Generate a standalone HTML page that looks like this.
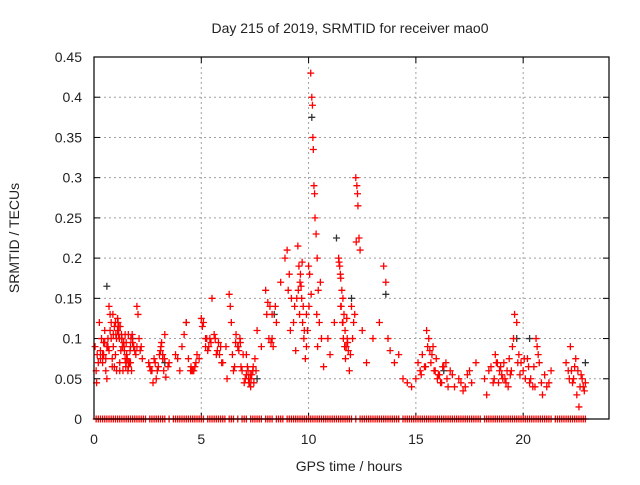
<!DOCTYPE html>
<html><head><meta charset="utf-8"><style>
body{margin:0;background:#fff;width:640px;height:480px;overflow:hidden}
svg text{font-family:"Liberation Sans",sans-serif;fill:#222}
</style></head><body>
<svg id="c" width="640" height="480">
<text x="350" y="33" font-size="14" text-anchor="middle">Day 215 of 2019, SRMTID for receiver mao0</text>
<text x="349" y="471" font-size="14" text-anchor="middle">GPS time / hours</text>
<text transform="translate(19,238) rotate(-90)" font-size="14" text-anchor="middle">SRMTID / TECUs</text>
<g id="grid"></g><g id="marks"></g>
<rect x="94" y="57" width="515" height="362" fill="none" stroke="#000" stroke-width="1.2"/>
</svg>
<script>
const xTicks=[0,5,10,15,20];
const yTicks=[0,0.05,0.1,0.15,0.2,0.25,0.3,0.35,0.4,0.45];
const redT=[0.05,0.1,0.12,0.2,0.25,0.3,0.35,0.4,0.45,0.5,0.55,0.6,0.65,0.7,0.75,0.8,0.85,0.9,0.95,1.0,1.05,1.1,1.15,1.2,1.25,1.3,1.35,1.4,1.45,1.5,1.55,1.6,1.7,1.8,1.9,2.0,2.05,2.1,2.2,2.25,
0.3,0.5,0.7,0.9,1.0,1.1,1.2,1.3,1.5,1.6,1.7,1.75,2.0,1.05,1.15,0.45,0.8,
0.15,0.4,0.6,0.75,0.85,0.95,1.12,1.22,1.28,1.38,1.42,1.48,1.58,1.65,1.68,1.72,1.78,1.85,1.95,2.15,0.55,0.65,0.88,1.02,1.18,1.32,1.45,1.52,1.62,
2.6,2.7,2.75,2.8,2.9,3.0,3.1,3.15,3.2,3.25,3.3,3.35,3.5,3.8,4.0,4.2,4.3,4.4,4.5,4.6,4.7,4.8,5.0,5.1,5.2,5.3,5.4,5.5,5.6,5.7,5.8,5.9,6.0,6.2,6.3,6.35,6.4,6.5,6.6,6.7,6.8,6.9,7.0,7.1,7.15,7.2,7.3,7.4,7.5,7.6,7.8,
2.65,2.85,3.05,3.2,4.55,5.2,5.35,6.75,6.85,7.25,7.35,7.1,
2.55,2.95,3.12,3.28,3.45,3.9,4.1,4.52,4.65,4.75,4.9,5.05,5.25,5.45,5.65,5.75,5.85,5.95,6.15,6.45,6.55,6.62,6.72,6.82,6.95,7.05,7.18,7.22,7.28,7.32,7.42,7.45,7.55,
8.0,8.1,8.2,8.3,8.35,8.5,8.7,8.9,9.0,9.1,9.2,9.3,9.4,9.5,9.55,9.6,9.7,9.75,9.8,9.85,9.9,10.0,10.05,10.1,10.15,10.18,10.2,10.22,10.25,10.28,10.3,10.35,10.4,10.45,10.5,10.6,10.7,10.9,11.0,11.2,11.4,11.45,11.5,11.55,11.6,11.65,11.7,11.8,11.85,11.9,12.0,12.1,12.2,12.25,12.28,12.3,12.35,12.4,12.5,12.7,13.0,13.3,13.5,13.6,13.7,13.8,14.0,14.2,14.4,14.6,14.8,
9.45,9.65,9.9,11.5,11.6,11.75,12.05,8.3,
8.05,8.15,8.25,8.45,9.05,9.15,9.35,9.52,9.58,9.62,9.68,9.72,9.78,9.95,10.02,10.12,10.38,10.42,10.55,11.42,11.48,11.52,11.58,11.62,11.68,11.72,11.78,11.82,11.95,12.15,12.22,
15.0,15.2,15.3,15.5,15.6,15.7,15.8,15.9,16.0,16.2,16.4,16.6,16.8,17.0,17.2,17.4,17.6,17.8,18.2,18.3,18.5,18.7,18.9,19.0,19.1,19.2,19.3,19.5,19.6,19.7,19.8,19.9,20.0,20.1,20.3,20.5,20.6,20.7,20.9,21.0,21.2,21.3,22.0,22.1,22.2,22.3,22.4,22.5,22.6,22.7,22.8,22.9,
15.4,15.65,16.1,16.3,18.6,18.8,19.05,19.25,19.4,20.2,20.45,22.35,22.55,
15.1,15.25,15.45,15.55,15.75,15.85,15.95,16.05,16.15,16.25,16.45,16.5,16.7,17.1,17.3,17.5,18.4,18.65,18.75,18.85,18.95,19.15,19.35,19.45,19.55,19.75,19.85,20.05,20.25,20.35,20.55,20.65,20.75,20.85,21.1,22.15,22.25,22.45,22.65,22.75,22.85];
const redV=[0.09,0.06,0.045,0.07,0.12,0.085,0.1,0.08,0.095,0.11,0.075,0.05,0.1,0.14,0.13,0.12,0.065,0.09,0.115,0.12,0.06,0.125,0.105,0.07,0.085,0.1,0.06,0.09,0.105,0.07,0.075,0.065,0.09,0.095,0.085,0.14,0.13,0.1,0.09,0.075,
0.075,0.095,0.085,0.105,0.08,0.11,0.06,0.1,0.095,0.105,0.07,0.06,0.09,0.1,0.115,0.08,0.1,
0.08,0.07,0.09,0.11,0.075,0.065,0.12,0.115,0.105,0.095,0.085,0.065,0.06,0.07,0.085,0.1,0.105,0.09,0.08,0.085,0.06,0.09,0.13,0.105,0.1,0.09,0.075,0.08,0.07,
0.065,0.06,0.045,0.075,0.05,0.065,0.085,0.095,0.08,0.06,0.105,0.052,0.07,0.08,0.06,0.105,0.12,0.075,0.06,0.06,0.065,0.08,0.125,0.12,0.09,0.085,0.1,0.15,0.105,0.08,0.095,0.09,0.07,0.05,0.155,0.14,0.12,0.06,0.095,0.09,0.1,0.06,0.045,0.055,0.065,0.05,0.04,0.06,0.075,0.11,0.09,
0.06,0.07,0.08,0.075,0.06,0.1,0.09,0.085,0.065,0.045,0.055,0.08,
0.07,0.06,0.09,0.075,0.065,0.075,0.09,0.065,0.06,0.07,0.075,0.115,0.1,0.095,0.1,0.085,0.08,0.07,0.09,0.08,0.065,0.105,0.09,0.095,0.08,0.05,0.06,0.045,0.055,0.05,0.065,0.045,0.06,
0.16,0.145,0.14,0.1,0.09,0.12,0.17,0.2,0.21,0.18,0.15,0.12,0.085,0.215,0.19,0.17,0.195,0.14,0.11,0.075,0.09,0.19,0.18,0.43,0.4,0.39,0.35,0.335,0.29,0.28,0.25,0.23,0.2,0.16,0.12,0.1,0.065,0.1,0.08,0.12,0.2,0.19,0.175,0.16,0.15,0.13,0.11,0.1,0.085,0.06,0.14,0.12,0.3,0.29,0.28,0.265,0.225,0.21,0.11,0.07,0.1,0.12,0.19,0.17,0.1,0.085,0.07,0.08,0.05,0.045,0.04,
0.15,0.165,0.13,0.14,0.12,0.09,0.1,0.13,
0.13,0.1,0.095,0.14,0.16,0.11,0.14,0.16,0.13,0.18,0.15,0.12,0.1,0.11,0.14,0.155,0.13,0.09,0.17,0.195,0.18,0.14,0.12,0.1,0.09,0.075,0.125,0.095,0.08,0.13,0.22,
0.05,0.06,0.08,0.11,0.1,0.07,0.09,0.06,0.05,0.045,0.07,0.06,0.04,0.05,0.035,0.055,0.045,0.07,0.05,0.03,0.065,0.08,0.06,0.055,0.07,0.045,0.04,0.09,0.13,0.12,0.08,0.07,0.06,0.05,0.045,0.065,0.1,0.08,0.03,0.055,0.045,0.06,0.07,0.06,0.09,0.045,0.065,0.03,0.015,0.055,0.04,0.045,
0.065,0.085,0.055,0.065,0.045,0.07,0.05,0.06,0.055,0.075,0.04,0.05,0.06,
0.07,0.055,0.065,0.09,0.08,0.06,0.075,0.055,0.045,0.065,0.05,0.04,0.055,0.045,0.04,0.06,0.06,0.05,0.07,0.045,0.065,0.05,0.075,0.06,0.1,0.07,0.055,0.075,0.065,0.05,0.04,0.09,0.07,0.045,0.04,0.05,0.06,0.075,0.04,0.05,0.035];
const blackT=[0.6,1.8,4.3,10.15,11.3,13.6,16.3,19.7,20.3,22.9,7.6,3.3,8.4,12.0];
const blackV=[0.165,0.1,0.12,0.375,0.225,0.155,0.06,0.1,0.1,0.07,0.05,0.07,0.13,0.15];
const zeroT=[0.1,0.2,0.3,0.4,0.5,0.6,0.7,0.8,0.9,1.0,1.1,1.2,1.3,1.4,1.5,1.6,1.7,1.8,1.9,2.0,2.1,2.2,2.3,2.4,2.6,2.7,2.8,2.9,3.0,3.1,3.2,3.3,3.5,3.7,3.8,3.9,4.0,4.1,4.2,4.3,4.4,4.5,4.6,4.7,4.8,4.9,5.0,5.1,5.3,5.4,5.5,5.6,5.7,5.8,5.9,6.0,6.1,6.3,6.4,6.5,6.7,6.9,7.0,7.1,7.3,7.4,7.5,7.6,7.7,7.8,8.0,8.1,8.2,8.3,8.5,8.6,8.7,8.8,9.0,9.1,9.2,9.3,9.4,9.5,9.6,9.7,9.8,9.9,10.0,10.1,10.2,10.3,10.4,10.5,10.6,10.7,10.8,10.9,11.0,11.1,11.2,11.3,11.4,11.5,11.6,11.7,11.8,11.9,12.0,12.2,12.4,12.5,12.6,12.7,12.8,12.9,13.0,13.1,13.2,13.3,13.4,13.5,13.6,13.7,13.8,13.9,14.0,14.1,14.2,14.4,14.5,14.6,14.7,14.8,14.9,15.0,15.1,15.2,15.3,15.4,15.5,15.6,15.7,15.8,15.9,16.0,16.1,16.2,16.3,16.4,16.5,16.6,16.7,16.8,16.9,17.0,17.1,17.2,17.3,17.4,17.5,17.6,17.7,17.8,17.9,18.0,18.2,18.3,18.4,18.5,18.6,18.7,18.8,18.9,19.0,19.1,19.2,19.3,19.4,19.5,19.6,19.7,19.8,19.9,20.0,20.1,20.2,20.3,20.4,20.5,20.6,20.7,20.8,20.9,21.0,21.1,21.2,21.3,21.5,21.6,21.7,21.8,21.9,22.0,22.1,22.2,22.3,22.4,22.5,22.6,22.7,22.8,22.9];
const X=t=>94+t*515/24, Y=v=>419-v*362/0.45;
const NS='http://www.w3.org/2000/svg';
const grid=document.getElementById('grid'), marks=document.getElementById('marks');
function mk(tag,a,p){const e=document.createElementNS(NS,tag);for(const k in a)e.setAttribute(k,a[k]);p.appendChild(e);return e;}
xTicks.forEach(t=>{const x=X(t);
 if(t>0){const g=mk('line',{x1:x,x2:x,y1:57,y2:419,stroke:'#a0a0a0','stroke-dasharray':'2,3'},grid);
 
 }
 mk('line',{x1:x,x2:x,y1:419,y2:413,stroke:'#000'},grid);mk('line',{x1:x,x2:x,y1:57,y2:63,stroke:'#000'},grid);
 const l=mk('text',{x:x,y:444,'font-size':14,'text-anchor':'middle'},grid);l.textContent=t;
 
 });
yTicks.forEach(v=>{const y=Y(v);
 if(v>0){const g=mk('line',{x1:94,x2:609,y1:y,y2:y,stroke:'#a0a0a0','stroke-dasharray':'2,3'},grid);
 
 }
 mk('line',{x1:94,x2:100,y1:y,y2:y,stroke:'#000'},grid);mk('line',{x1:603,x2:609,y1:y,y2:y,stroke:'#000'},grid);
 const l=mk('text',{x:82,y:y+5,'font-size':14,'text-anchor':'end'},grid);l.textContent=v;
 
 });
function plus(t,v,col,name){const x=X(t),y=Y(v);
 const p=mk('path',{d:`M${x-3.5},${y}h7M${x},${y-3.5}v7`,stroke:col,'stroke-width':1.3},marks);
 
 }
blackT.forEach((t,i)=>plus(t,blackV[i],'#333','black-point'));
redT.forEach((t,i)=>plus(t,redV[i],'#f00','red-point'));
zeroT.forEach(t=>plus(t,0,'#f00','zero-point'));
</script>
</body></html>
